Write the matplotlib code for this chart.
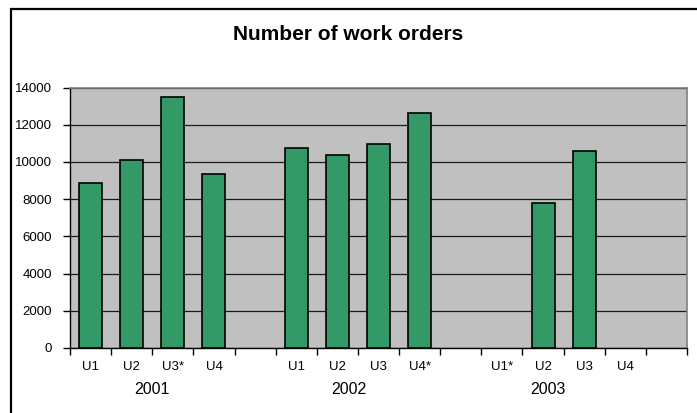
import matplotlib
matplotlib.use("Agg")
import matplotlib.pyplot as plt
from matplotlib.patches import Rectangle
import numpy as np

plt.rcParams['font.family'] = ['Liberation Sans', 'DejaVu Sans']

title = "Number of work orders"
categories = ["U1", "U2", "U3*", "U4", "",
              "U1", "U2", "U3", "U4*", "",
              "U1*", "U2", "U3", "U4", ""]
values = [8870, 10110, 13470, 9330, np.nan,
          10770, 10350, 10990, 12630, np.nan,
          np.nan, 7780, 10570, np.nan, np.nan]
years = ["2001", "2002", "2003"]
yticks = [0, 2000, 4000, 6000, 8000, 10000, 12000, 14000]

W, H = 697, 413
fig = plt.figure(figsize=(W / 100, H / 100), dpi=100)
fig.patch.set_facecolor("white")

# outer chart frame (top and left edges visible)
fig.add_artist(Rectangle((10.5 / W, -0.2), 1.2, (H - 8.5) / H + 0.2,
                         transform=fig.transFigure, fill=False,
                         edgecolor="black", linewidth=1.6, clip_on=False))

left, right = 70 / W, 687 / W
bottom, top = (H - 348) / H, (H - 87.5) / H
ax = fig.add_axes([left, bottom, right - left, top - bottom])
ax.set_facecolor("#C0C0C0")

n = len(categories)
x = np.arange(n) + 0.5
ax.set_axisbelow(True)
ax.yaxis.grid(True, color="#1a1a1a", linewidth=0.9)
ax.bar(x, values, width=0.56, color="#339966", edgecolor="black",
       linewidth=1.2, zorder=3)

ax.set_xlim(0, n)
ax.set_ylim(0, 14000)
ax.set_yticks(yticks)
ax.set_yticklabels([str(v) for v in yticks], fontsize=9.5)

ax.set_xticks(np.arange(n + 1))
ax.set_xticklabels([])
ax.set_xticks(x, minor=True)
ax.set_xticklabels(categories, minor=True, fontsize=9.5)
ax.tick_params(axis="x", which="major", direction="out", length=5, width=1)
ax.tick_params(axis="x", which="minor", length=0, pad=9)
ax.tick_params(axis="y", direction="out", length=5, width=1, pad=8)

for s in ["left", "bottom"]:
    ax.spines[s].set_color("black")
    ax.spines[s].set_linewidth(1.0)
for s in ["top", "right"]:
    ax.spines[s].set_color("#808080")
    ax.spines[s].set_linewidth(1.2)

# year group labels under category labels
group = 5
offsets = [0.0, -0.23, -0.37]
for i, yr in enumerate(years):
    cx = i * group + 2.0 + offsets[i]
    ax.text(cx, -0.16, yr, transform=ax.get_xaxis_transform(),
            ha="center", va="center", fontsize=11.5)

fig.text(348 / W, 1 - 35 / H, title, ha="center", va="center",
         fontsize=15, fontweight="bold")

fig.savefig("out.png", dpi=100, facecolor="white")
